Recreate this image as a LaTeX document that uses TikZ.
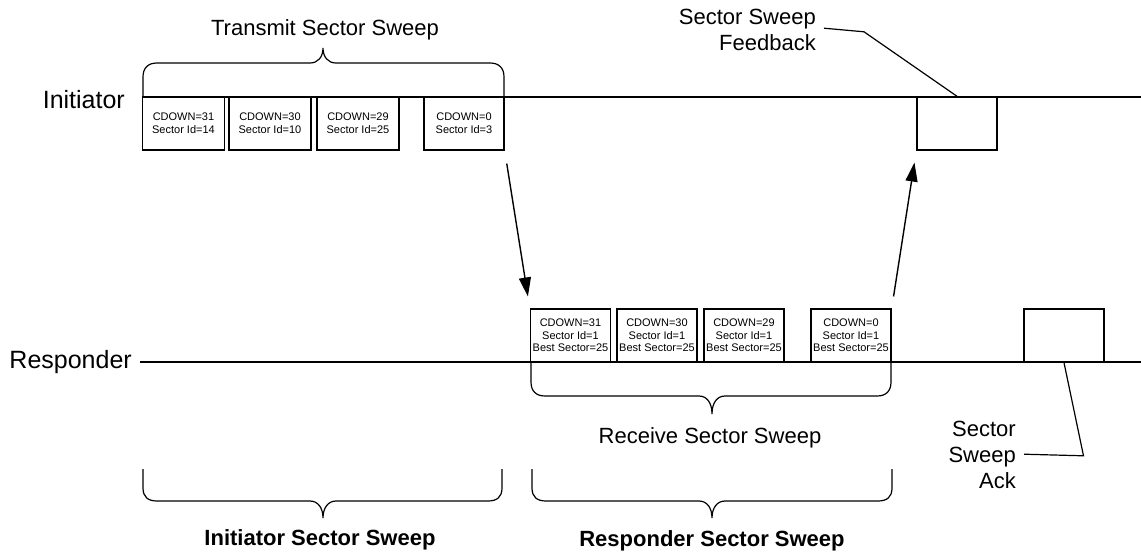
\documentclass[tikz,border=0pt]{standalone}
\usepackage{fontspec}
\setmainfont{Liberation Sans}
\usetikzlibrary{arrows.meta}
\tikzset{
  box/.style={draw, line width=1.4pt, minimum width=82pt, minimum height=53pt, inner sep=0pt, align=center, font=\fontsize{11}{12.7}\selectfont},
  emptybox/.style={draw, line width=1.4pt, minimum width=80pt, minimum height=53pt, inner sep=0pt},
  timeline/.style={line width=1.2pt},
  bracepath/.style={line width=1.2pt},
  arrowline/.style={line width=1.4pt, -{Triangle[length=19pt,width=12pt]}},
  leader/.style={line width=1.2pt},
  biglabel/.style={font=\fontsize{25}{30}\selectfont, inner sep=0pt},
  midlabel/.style={font=\fontsize{22}{26}\selectfont, inner sep=0pt},
  boldlabel/.style={font=\bfseries\fontsize{22}{26}\selectfont, inner sep=0pt},
  sidelabel/.style={font=\fontsize{22}{26}\selectfont, inner sep=0pt, align=right},
}
\begin{document}
\begin{tikzpicture}[x=1pt,y=-1pt]
\useasboundingbox (0,0) rectangle (1141,552);

% timelines
\node[biglabel, anchor=base east] (ilab) at (125,108) {Initiator};
\node[biglabel, anchor=base east] (rlab) at (132,368.5) {Responder};
\coordinate (iL) at (143,97);
\coordinate (iR) at (1141,97);
\coordinate (rL) at (140,362);
\coordinate (rR) at (1141,362);
\draw[timeline] (iL) -- (iR);
\draw[timeline] (rL) -- (rR);

% initiator boxes
\node[box] (i1) at (183.5,123.5) {CDOWN=31\\Sector Id=14};
\node[box] (i2) at (270,123.5) {CDOWN=30\\Sector Id=10};
\node[box] (i3) at (358,123.5) {CDOWN=29\\Sector Id=25};
\node[box, minimum width=80pt] (i4) at (464,123.5) {CDOWN=0\\Sector Id=3};

% responder boxes
\node[box, minimum width=80pt] (r1) at (570.5,335.5) {CDOWN=31\\Sector Id=1\\Best Sector=25};
\node[box, minimum width=80pt] (r2) at (657,335.5) {CDOWN=30\\Sector Id=1\\Best Sector=25};
\node[box, minimum width=80pt] (r3) at (744,335.5) {CDOWN=29\\Sector Id=1\\Best Sector=25};
\node[box, minimum width=80pt] (r4) at (851,335.5) {CDOWN=0\\Sector Id=1\\Best Sector=25};

% feedback and ack boxes
\node[emptybox] (fb) at (957,123.5) {};
\node[emptybox] (ack) at (1064,335.5) {};

% arrows
\draw[arrowline, shorten <=13pt, shorten >=12pt] (i4.south east) -- (r1.north west);
\draw[arrowline, shorten <=12pt, shorten >=12pt] (r4.north east) -- (fb.south west);

% top brace (transmit)
\draw[bracepath] (143,97) -- (143,77) .. controls (143,68) and (148,63) .. (157,63)
  -- (310,63) .. controls (318,63) and (323,57) .. (323,48)
  .. controls (323,57) and (328,63) .. (336,63) -- (490,63)
  .. controls (499,63) and (504,68) .. (504,77) -- (504,97);
\node[midlabel, anchor=base] (tss) at (325,35) {Transmit Sector Sweep};

% receive brace
\draw[bracepath] (531,362) -- (531,382) .. controls (531,391) and (536,396) .. (545,396)
  -- (699,396) .. controls (707,396) and (712,403) .. (712,414)
  .. controls (712,403) and (717,396) .. (725,396) -- (877,396)
  .. controls (886,396) and (891,391) .. (891,382) -- (891,362);
\node[midlabel, anchor=base] (rss) at (710,443.5) {Receive Sector Sweep};

% bottom braces
\draw[bracepath] (143,469) -- (143,488) .. controls (143,497) and (148,501) .. (157,501)
  -- (310,501) .. controls (318,501) and (323,508) .. (323,518)
  .. controls (323,508) and (328,501) .. (336,501) -- (488,501)
  .. controls (497,501) and (502,497) .. (502,488) -- (502,469);
\node[boldlabel, anchor=base] (iss) at (320,545) {Initiator Sector Sweep};

\draw[bracepath] (532,469) -- (532,488) .. controls (532,497) and (537,501) .. (546,501)
  -- (699,501) .. controls (707,501) and (712,508) .. (712,518)
  .. controls (712,508) and (717,501) .. (725,501) -- (878,501)
  .. controls (887,501) and (892,497) .. (892,488) -- (892,469);
\node[boldlabel, anchor=base] (rssb) at (712,546) {Responder Sector Sweep};

% feedback label and leader
\node[sidelabel, anchor=east] (fbl) at (816,30) {Sector Sweep\\Feedback};
\coordinate (fbk) at (864,31.8);
\draw[leader] ([xshift=8pt,yshift=1.8pt]fbl.east) -- (fbk) -- (fb.north);

% ack label and leader
\node[sidelabel, anchor=east] (ackl) at (1016,455) {Sector\\Sweep\\Ack};
\coordinate (ackk) at (1083.5,455.8);
\draw[leader] (ack.south) -- (ackk) -- ([xshift=8pt,yshift=0.8pt]ackl.east);
\end{tikzpicture}
\end{document}
